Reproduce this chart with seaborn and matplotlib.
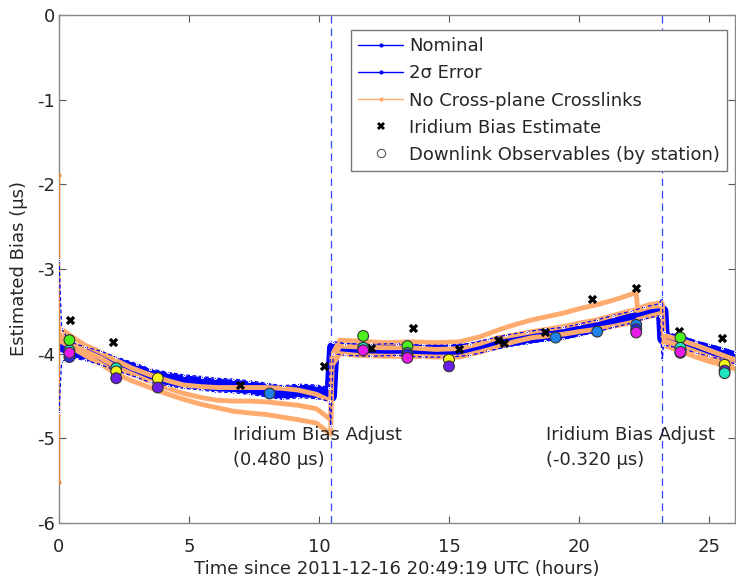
import matplotlib
matplotlib.use("Agg")
import matplotlib.pyplot as plt
from matplotlib.lines import Line2D
import seaborn as sns
import pandas as pd

# ---------------- data ----------------
nom_t = [0.0, 0.1, 0.4, 1.0, 1.6, 2.2, 3.0, 3.5, 4.2, 4.8, 5.5, 6.0, 6.7, 7.3, 8.0, 8.6, 9.2, 9.9,
         10.4, 10.45, 10.55, 11.0, 12.0, 13.0, 14.0, 15.0, 15.8, 16.5, 17.2, 18.0, 18.7, 19.4,
         20.0, 20.7, 21.3, 22.0, 22.5, 23.1, 23.2, 23.25, 24.0, 24.5, 25.0, 25.5, 26.0]
nominal = [-3.88, -3.90, -3.95, -4.00, -4.05, -4.12, -4.20, -4.26, -4.30, -4.33, -4.35, -4.37,
           -4.38, -4.40, -4.43, -4.46, -4.44, -4.45, -4.48, -4.50, -3.93, -3.95, -3.96, -3.95,
           -3.97, -3.97, -3.95, -3.90, -3.85, -3.81, -3.78, -3.76, -3.72, -3.67, -3.62, -3.57,
           -3.52, -3.48, -3.50, -3.82, -3.87, -3.92, -3.96, -4.00, -4.05]
err_upper = [-2.89, -3.70, -3.86, -3.92, -3.97, -4.04, -4.12, -4.18, -4.22, -4.25, -4.27, -4.29,
             -4.30, -4.32, -4.35, -4.38, -4.36, -4.37, -4.40, -3.85, -3.86, -3.88, -3.89, -3.88,
             -3.90, -3.90, -3.88, -3.83, -3.78, -3.74, -3.71, -3.69, -3.65, -3.60, -3.55, -3.50,
             -3.45, -3.41, -3.33, -3.74, -3.80, -3.85, -3.89, -3.93, -3.98]
err_lower = [-4.69, -4.10, -4.04, -4.08, -4.13, -4.20, -4.28, -4.34, -4.38, -4.41, -4.43, -4.45,
             -4.46, -4.48, -4.51, -4.54, -4.52, -4.53, -4.56, -4.85, -4.00, -4.02, -4.03, -4.02,
             -4.04, -4.04, -4.02, -3.97, -3.92, -3.88, -3.85, -3.83, -3.79, -3.74, -3.69, -3.64,
             -3.59, -3.55, -4.07, -3.90, -3.94, -3.99, -4.03, -4.07, -4.12]

ncp_t = [0.05, 0.5, 1.0, 1.6, 2.2, 2.8, 3.5, 4.2, 4.8, 5.5, 6.1, 6.7, 7.3, 8.0, 8.6, 9.2, 9.9,
         10.45, 10.5, 10.8, 11.5, 12.5, 13.5, 14.5, 15.4, 16.2, 16.9, 17.5, 18.2, 18.8, 19.4,
         20.0, 20.7, 21.3, 21.9, 22.2, 22.25, 22.7, 23.2, 23.25, 23.8, 24.5, 25.1, 25.8, 26.0]
ncp_upper = [-3.70, -3.80, -3.90, -3.98, -4.08, -4.17, -4.25, -4.32, -4.37, -4.39, -4.40, -4.40,
             -4.40, -4.40, -4.41, -4.43, -4.48, -4.56, -4.02, -3.84, -3.85, -3.87, -3.86, -3.87,
             -3.86, -3.80, -3.72, -3.66, -3.60, -3.56, -3.52, -3.47, -3.42, -3.37, -3.31, -3.28,
             -3.47, -3.42, -3.40, -3.78, -3.83, -3.90, -3.97, -4.05, -4.07]
ncp_mid = [-3.78, -3.88, -3.97, -4.05, -4.16, -4.24, -4.33, -4.41, -4.47, -4.52, -4.55, -4.56,
           -4.56, -4.57, -4.59, -4.61, -4.65, -4.78, -4.08, -3.91, -3.92, -3.93, -3.93, -3.95,
           -3.94, -3.88, -3.81, -3.78, -3.74, -3.71, -3.68, -3.64, -3.60, -3.55, -3.50, -3.48,
           -3.49, -3.45, -3.43, -3.84, -3.90, -3.98, -4.05, -4.11, -4.13]
ncp_lower = [-3.85, -3.93, -4.02, -4.12, -4.24, -4.32, -4.40, -4.48, -4.54, -4.60, -4.64, -4.68,
             -4.70, -4.72, -4.75, -4.78, -4.82, -4.95, -4.14, -4.00, -4.02, -4.03, -4.03, -4.04,
             -4.04, -3.98, -3.92, -3.86, -3.81, -3.79, -3.77, -3.74, -3.71, -3.68, -3.64, -3.62,
             -3.60, -3.56, -3.52, -3.90, -3.96, -4.04, -4.10, -4.16, -4.18]
spike_t = [0.0, 0.0]
spike_v = [-1.89, -5.51]

bias_t = [0.42, 2.07, 6.95, 10.2, 12.0, 13.6, 15.4, 16.9, 17.1, 18.7, 20.5, 22.2, 23.85, 25.5]
bias_v = [-3.60, -3.86, -4.37, -4.14, -3.93, -3.70, -3.94, -3.84, -3.87, -3.75, -3.35, -3.23,
          -3.73, -3.82]

obs_t = [0.4, 0.4, 0.4, 0.4, 2.2, 2.2, 2.2, 3.8, 3.8, 8.1, 11.7, 11.7, 11.7,
         13.4, 13.4, 13.4, 13.4, 15.0, 15.0, 19.1, 20.7, 22.2, 22.2, 22.2,
         23.9, 23.9, 23.9, 23.9, 25.6, 25.6, 25.6]
obs_v = [-4.04, -3.96, -3.99, -3.84, -4.17, -4.21, -4.29, -4.29, -4.40, -4.47, -3.79, -3.93, -3.96,
         -3.91, -3.99, -4.01, -4.05, -4.07, -4.15, -3.81, -3.74, -3.66, -3.71, -3.75,
         -3.81, -3.93, -3.99, -3.98, -4.13, -4.20, -4.23]
obs_station = ["blue", "teal", "magenta", "green", "teal", "yellow", "purple", "yellow", "purple",
               "azure", "green", "teal", "magenta",
               "green", "teal", "blue", "magenta", "yellow", "purple", "azure", "azure",
               "azure", "blue", "magenta",
               "green", "teal", "blue", "magenta", "yellow", "purple", "teal"]
station_colors = {"green": "#4cf01c", "teal": "#1ee6c0", "magenta": "#e81ae8", "blue": "#2a2ae6",
                  "yellow": "#f6f61a", "purple": "#6a1ee6", "azure": "#1e82e8"}

adjust_t = [10.45, 23.2]
adjust_text = ["Iridium Bias Adjust\n(0.480 \u03bcs)", "Iridium Bias Adjust\n(-0.320 \u03bcs)"]
adjust_text_x = [6.7, 18.75]

# ---------------- plotting ----------------
sns.set_theme(style="white")
plt.rcParams["font.family"] = ["DejaVu Sans"]

fig = plt.figure(figsize=(7.36, 5.79), dpi=100)
ax = fig.add_axes([59 / 736, 56 / 579, 676 / 736, 508 / 579])

ORANGE = "#ffab6e"
BLUE = "#0000ff"

nom_df = pd.DataFrame({"t": nom_t, "v": nominal, "up": err_upper, "lo": err_lower})
ncp_df = pd.DataFrame({"t": ncp_t, "u": ncp_upper, "m": ncp_mid, "l": ncp_lower})

# nominal (thick noisy band)
sns.lineplot(data=nom_df.iloc[1:], x="t", y="v", ax=ax, color=BLUE, lw=9, estimator=None,
             sort=False, zorder=2)

# no cross-plane crosslinks
for col in ["u", "m", "l"]:
    sns.lineplot(data=ncp_df, x="t", y=col, ax=ax, color=ORANGE, lw=3.5, estimator=None,
                 sort=False, zorder=3)
ax.plot(spike_t, spike_v, color="#e08a3c", lw=1.0, marker=".", ms=4, zorder=3)

# 2 sigma error
for col in ["up", "lo"]:
    sns.lineplot(data=nom_df, x="t", y=col, ax=ax, color=BLUE, lw=0.9, estimator=None,
                 sort=False, linestyle=(0, (3, 2)), marker=".", markersize=3, zorder=4)

# adjust lines
for t in adjust_t:
    ax.axvline(t, color="#3344ff", lw=0.9, linestyle=(0, (6, 4)), zorder=1)
for x, s in zip(adjust_text_x, adjust_text):
    ax.text(x, -4.86, s, fontsize=13, va="top", ha="left", linespacing=1.5, zorder=6)

# bias estimates
bias_df = pd.DataFrame({"t": bias_t, "v": bias_v})
sns.scatterplot(data=bias_df, x="t", y="v", ax=ax, marker="X", color="black", s=45,
                linewidth=0, zorder=6)

# downlink observables
obs_df = pd.DataFrame({"t": obs_t, "v": obs_v, "st": obs_station})
sns.scatterplot(data=obs_df, x="t", y="v", hue="st", palette=station_colors, ax=ax, s=60,
                edgecolor="#333333", linewidth=0.8, zorder=7, legend=False)

ax.set_xlim(0, 26)
ax.set_ylim(-6, 0)
ax.set_xticks([0, 5, 10, 15, 20, 25])
ax.set_yticks([0, -1, -2, -3, -4, -5, -6])
ax.set_xticklabels(["0", "5", "10", "15", "20", "25"])
ax.set_yticklabels(["0", "-1", "-2", "-3", "-4", "-5", "-6"])
ax.tick_params(direction="in", length=5, width=0.8, color="#555555", labelsize=13,
               top=True, right=True, bottom=True, left=True, pad=3)
ax.tick_params(axis="x", pad=11)
for sp in ax.spines.values():
    sp.set_color("#888888")
    sp.set_linewidth(1.0)
ax.set_xlabel("Time since 2011-12-16 20:49:19 UTC (hours)", fontsize=13, labelpad=3)
ax.set_ylabel("Estimated Bias (\u03bcs)", fontsize=13, labelpad=6)

handles = [
    Line2D([], [], color=BLUE, lw=1, marker=".", ms=4),
    Line2D([], [], color=BLUE, lw=1, marker=".", ms=4),
    Line2D([], [], color=ORANGE, lw=1, marker=".", ms=4),
    Line2D([], [], color="black", lw=0, marker="X", ms=6, markeredgewidth=0),
    Line2D([], [], color="white", lw=0, marker="o", ms=6, markeredgecolor="#555555",
           markeredgewidth=0.8),
]
labels = ["Nominal", "2\u03c3 Error", "No Cross-plane Crosslinks", "Iridium Bias Estimate",
          "Downlink Observables (by station)"]
leg = ax.legend(handles, labels, loc="upper right", bbox_to_anchor=(0.988, 0.970),
                borderaxespad=0, fontsize=13, frameon=True, fancybox=False, framealpha=1,
                edgecolor="#777777", handlelength=2.5, handletextpad=0.3, labelspacing=0.5,
                borderpad=0.4)
leg.get_frame().set_linewidth(1.0)
leg.set_zorder(10)

fig.savefig("out.png", dpi=100)
